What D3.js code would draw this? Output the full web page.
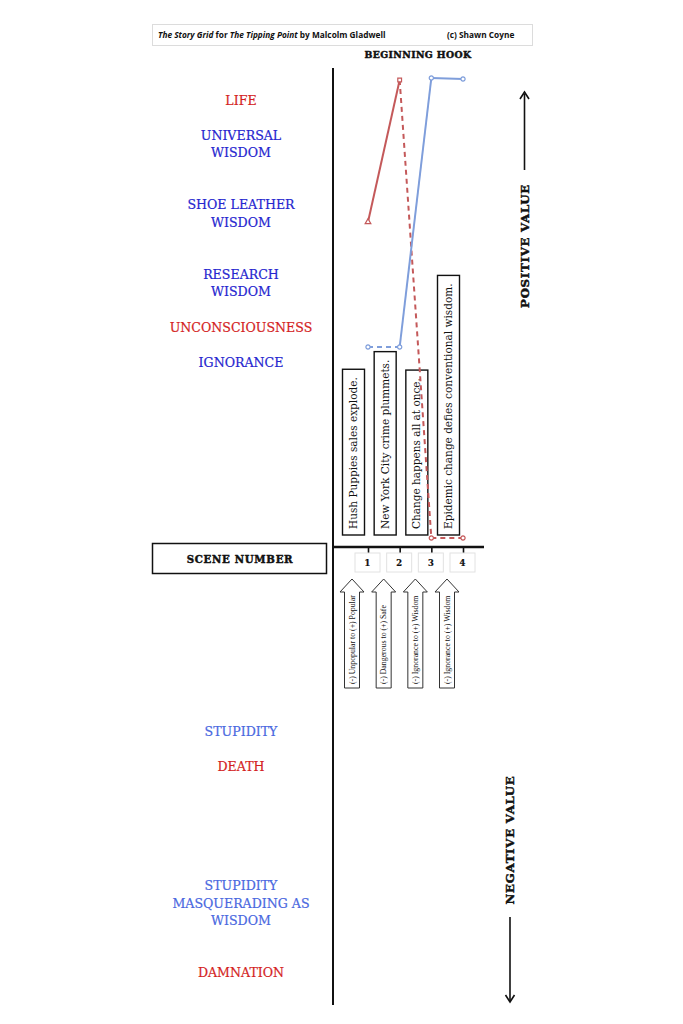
<!DOCTYPE html>
<html>
<head>
<meta charset="utf-8">
<script src="https://cdn.jsdelivr.net/npm/d3@7"></script>
<style>
  body { margin: 0; background: #fff; }
  svg { display: block; }
</style>
</head>
<body>
<div id="graphicContainer"></div>
<script>
// scenes along the bottom axis
var scenes = [1, 2, 3, 4];
var sceneText = [
  "Hush Puppies sales explode.",
  "New York City crime plummets.",
  "Change happens all at once.",
  "Epidemic change defies conventional wisdom."
];
var sceneShift = [
  "(-) Unpopular to (+) Popular",
  "(-) Dangerous to (+) Safe",
  "(-) Ignorance to (+) Wisdom",
  "(-) Ignorance to (+) Wisdom"
];

// value per scene (scale -100 .. 100)
var redValues = [65, 93.4, 1.8, 1.8];
var redDash = [false, true, true];
var blueValues = [40, 40, 93.8, 93.6];
var blueDash = [true, false, false];

// value labels on the left
var labelLines = [
  ["LIFE"], ["UNIVERSAL", "WISDOM"], ["SHOE LEATHER", "WISDOM"], ["RESEARCH", "WISDOM"],
  ["UNCONSCIOUSNESS"], ["IGNORANCE"], ["STUPIDITY"], ["DEATH"],
  ["STUPIDITY", "MASQUERADING AS", "WISDOM"], ["DAMNATION"]
];
var labelValues = [89.4, 80.6, 66.7, 52.8, 44, 37, -36.8, -43.8, -71.2, -85];
var labelKind = ["red", "blue", "blue", "blue", "red", "blue", "lightblue", "red", "lightblue", "red"];

var colors = {red: "#d41f1f", blue: "#2626cf", lightblue: "#4a68df"};
var serif = "DejaVu Serif";

var width = 683, height = 1024;

var svg = d3.select("#graphicContainer").append("svg")
  .attr("width", width)
  .attr("height", height);

var y = d3.scaleLinear().domain([-100, 100]).range([1047, 47]);
var x = d3.scaleLinear().domain([1, 4]).range([368, 463]);

function heavy(sel, size, spacing) {
  return sel.attr("font-family", serif)
    .attr("font-weight", 700)
    .attr("font-size", size)
    .attr("letter-spacing", spacing)
    .attr("fill", "#111")
    .attr("stroke", "#111")
    .attr("stroke-width", 0.45);
}

// header
svg.append("rect")
  .attr("x", 152.5).attr("y", 24.5).attr("width", 380).attr("height", 21)
  .attr("fill", "none").attr("stroke", "#dcdcdc");

var head = svg.append("text")
  .attr("x", 158).attr("y", 38)
  .attr("font-family", "Open Sans")
  .attr("font-weight", 700)
  .attr("font-size", 8.3)
  .attr("fill", "#111");
head.append("tspan").attr("font-style", "italic").text("The Story Grid");
head.append("tspan").text(" for ");
head.append("tspan").attr("font-style", "italic").text("The Tipping Point");
head.append("tspan").text(" by Malcolm Gladwell");

svg.append("text")
  .attr("x", 447).attr("y", 38)
  .attr("font-family", "Open Sans")
  .attr("font-weight", 700)
  .attr("font-size", 8.3)
  .attr("fill", "#111")
  .text("(c) Shawn Coyne");

heavy(svg.append("text"), 9.3, 0.4)
  .attr("x", 418).attr("y", 58)
  .attr("text-anchor", "middle")
  .text("BEGINNING HOOK");

// value labels
labelLines.forEach(function(lines, i) {
  var cy = y(labelValues[i]) - (lines.length - 1) * 17.5 / 2;
  var t = svg.append("text")
    .attr("text-anchor", "middle")
    .attr("font-family", serif)
    .attr("font-size", 12.6)
    .attr("fill", colors[labelKind[i]])
    .attr("stroke", colors[labelKind[i]])
    .attr("stroke-width", 0.2);
  lines.forEach(function(l, j) {
    t.append("tspan").attr("x", 241).attr("y", cy + j * 17.5 + 4.5).text(l);
  });
});

// vertical axis
svg.append("line")
  .attr("x1", 333).attr("x2", 333)
  .attr("y1", 68).attr("y2", 1005)
  .attr("stroke", "#111").attr("stroke-width", 2);

// scene axis
var axisY = y(0);
var axis = svg.append("g")
  .attr("transform", "translate(0," + axisY + ")")
  .call(d3.axisBottom(x).tickValues(scenes).tickSize(6).tickFormat(""));
axis.select(".domain").remove();
axis.selectAll(".tick line").attr("stroke", "#111").attr("stroke-width", 1.6);
svg.append("line")
  .attr("x1", 333).attr("x2", 484)
  .attr("y1", axisY).attr("y2", axisY)
  .attr("stroke", "#111").attr("stroke-width", 2.5);

// scene number box
svg.append("rect")
  .attr("x", 152.5).attr("y", 543.5).attr("width", 174).attr("height", 30)
  .attr("fill", "#fff").attr("stroke", "#111").attr("stroke-width", 1.5);
heavy(svg.append("text"), 10.2, 0.7)
  .attr("x", 240).attr("y", 563)
  .attr("text-anchor", "middle")
  .text("SCENE NUMBER");

// scene numbers
var nums = svg.append("g").selectAll("g").data(scenes).enter().append("g");
nums.append("rect")
  .attr("x", function(d) { return x(d) - 13; })
  .attr("y", 553).attr("width", 25).attr("height", 19)
  .attr("fill", "#fff").attr("stroke", "#e2e2e2");
heavy(nums.append("text"), 8.4, 0)
  .attr("x", function(d) { return x(d) - 0.5; })
  .attr("y", 566)
  .attr("text-anchor", "middle")
  .attr("stroke-width", 0.2)
  .text(function(d) { return d; });

// scene description boxes
var boxBottom = 535;
scenes.forEach(function(d, i) {
  var cx = x(d) - 14.5;
  var g = svg.append("g");
  var r = g.append("rect");
  var t = g.append("text")
    .attr("transform", "translate(" + (cx + 3.6) + "," + (boxBottom - 6) + ") rotate(-90)")
    .attr("font-family", serif)
    .attr("font-size", 10.5)
    .attr("fill", "#111")
    .text(sceneText[i]);
  var len = t.node().getComputedTextLength();
  r.attr("x", cx - 11).attr("width", 22)
    .attr("y", boxBottom - len - 14).attr("height", len + 14)
    .attr("fill", "#fff").attr("stroke", "#111").attr("stroke-width", 1.4);
});

// value shift arrows
var arrowTop = 579, arrowBottom = 688;
scenes.forEach(function(d, i) {
  var cx = x(d) - 16;
  var p = d3.path();
  p.moveTo(cx - 7.5, arrowBottom);
  p.lineTo(cx - 7.5, arrowTop + 13);
  p.lineTo(cx - 12, arrowTop + 13);
  p.lineTo(cx, arrowTop);
  p.lineTo(cx + 12, arrowTop + 13);
  p.lineTo(cx + 7.5, arrowTop + 13);
  p.lineTo(cx + 7.5, arrowBottom);
  p.closePath();
  svg.append("path").attr("d", p.toString())
    .attr("fill", "#fff").attr("stroke", "#333").attr("stroke-width", 1);
  svg.append("text")
    .attr("transform", "translate(" + (cx + 2.8) + "," + (arrowBottom - 4) + ") rotate(-90)")
    .attr("font-family", "Liberation Serif")
    .attr("font-size", 7.8)
    .attr("fill", "#111")
    .text(sceneShift[i]);
});

// value lines
function drawSeries(values, dashes, color, shapes) {
  for (var i = 0; i < values.length - 1; i++) {
    svg.append("line")
      .attr("x1", x(scenes[i])).attr("y1", y(values[i]))
      .attr("x2", x(scenes[i + 1])).attr("y2", y(values[i + 1]))
      .attr("stroke", color).attr("stroke-width", 2)
      .attr("stroke-dasharray", dashes[i] ? "5,4" : null);
  }
  values.forEach(function(v, i) {
    svg.append("path")
      .attr("transform", "translate(" + x(scenes[i]) + "," + y(v) + ")")
      .attr("d", d3.symbol().type(shapes[i]).size(14)())
      .attr("fill", "#fff").attr("stroke", color).attr("stroke-width", 1.2);
  });
}
drawSeries(redValues, redDash, "#c4595a",
  [d3.symbolTriangle, d3.symbolSquare, d3.symbolCircle, d3.symbolCircle]);
drawSeries(blueValues, blueDash, "#7f9edb",
  [d3.symbolCircle, d3.symbolCircle, d3.symbolCircle, d3.symbolCircle]);

// positive / negative value side labels
heavy(svg.append("text"), 11.8, 0.7)
  .attr("transform", "translate(529,246) rotate(-90)")
  .attr("text-anchor", "middle")
  .text("POSITIVE VALUE");
svg.append("line")
  .attr("x1", 524.5).attr("x2", 524.5).attr("y1", 170).attr("y2", 94)
  .attr("stroke", "#111").attr("stroke-width", 1.6);
svg.append("path")
  .attr("d", "M520,99 L524.5,92 L529,99")
  .attr("fill", "none").attr("stroke", "#111").attr("stroke-width", 1.6);

heavy(svg.append("text"), 11.8, 0.7)
  .attr("transform", "translate(514,840) rotate(-90)")
  .attr("text-anchor", "middle")
  .text("NEGATIVE VALUE");
svg.append("line")
  .attr("x1", 510).attr("x2", 510).attr("y1", 917).attr("y2", 1002)
  .attr("stroke", "#111").attr("stroke-width", 1.6);
svg.append("path")
  .attr("d", "M505.5,995 L510,1002 L514.5,995")
  .attr("fill", "none").attr("stroke", "#111").attr("stroke-width", 1.6);
</script>
</body>
</html>
